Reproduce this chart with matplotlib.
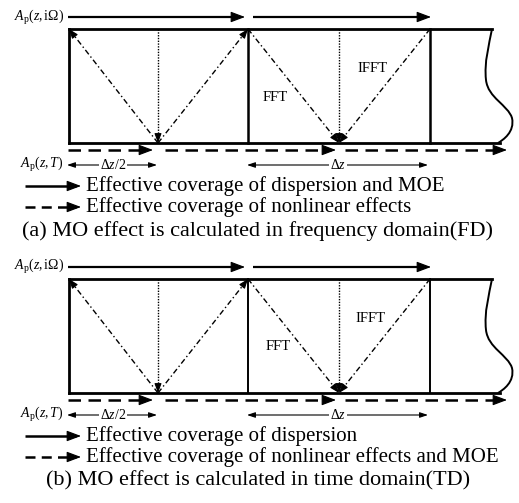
import matplotlib
matplotlib.use("Agg")
import matplotlib.pyplot as plt
from matplotlib.path import Path
from matplotlib.patches import PathPatch
import numpy as np

plt.rcParams['font.family'] = ['Liberation Serif', 'DejaVu Serif']
plt.rcParams['mathtext.fontset'] = 'custom'
plt.rcParams['mathtext.rm'] = 'Liberation Serif'
plt.rcParams['mathtext.it'] = 'Liberation Serif:italic'
plt.rcParams['mathtext.bf'] = 'Liberation Serif:bold'

# ---- diagram geometry (pixel units, panel (a); panel (b) is shifted down) ----
panel_offsets = [0, 250]
box_left, box_top, box_bottom = 69, 29, 143
top_edge_end, bottom_edge_end = 492, 500
solid_verticals = [248, 430]
dotted_verticals = [158, 339]
# diagonals: (x_start, y_start, x_end, y_end), arrow head at end
diagonals = [(158, 143, 69, 29), (158, 143, 248, 29), (248, 29, 339, 143), (430, 29, 339, 143)]
# wavy right edge as cubic Bezier segments (start, ctrl1, ctrl2, end)
wave_ctrl = [(492, 29), (489, 45), (484, 62), (486, 80),
             (488, 98), (508, 105), (512, 118),
             (515, 132), (503, 140), (498, 143)]
top_arrows = [(68, 245), (253, 431)]
top_arrow_y = 17
bottom_arrows = [(68, 153), (165, 336), (345, 507)]
bottom_arrow_y = 150
span_y = 165
spans = [(67, 157, r'$\Delta z/2$', 113), (247, 428, r'$\Delta z$', 338)]

legend_lines = [
    ["Effective coverage of dispersion and MOE", "Effective coverage of nonlinear effects"],
    ["Effective coverage of dispersion", "Effective coverage of nonlinear effects and MOE"],
]
captions = ["(a) MO effect is calculated in frequency domain(FD)",
            "(b) MO effect is calculated in time domain(TD)"]
fft_pos = [(275, 97), (278, 97)]
ifft_pos = [(372, 68), (370, 68)]

W, H = 519, 503
fig = plt.figure(figsize=(W / 100, H / 100), dpi=100)
ax = fig.add_axes([0, 0, 1, 1])
ax.set_xlim(0, W)
ax.set_ylim(H, 0)
ax.axis('off')


def head(x1, y1, dx, dy, ms=10):
    L = np.hypot(dx, dy)
    ux, uy = dx / L, dy / L
    ax.annotate('', xy=(x1, y1), xytext=(x1 - ux * 6, y1 - uy * 6),
                arrowprops=dict(arrowstyle='-|>,head_length=0.8,head_width=0.3',
                                color='black', lw=0.8, shrinkA=0, shrinkB=0,
                                mutation_scale=ms))


def arrow(x0, y0, x1, y1, lw=1.5, dashes=None, ms=10):
    dx, dy = x1 - x0, y1 - y0
    L = np.hypot(dx, dy)
    ux, uy = dx / L, dy / L
    xe, ye = x1 - ux * 5, y1 - uy * 5
    if dashes is None:
        ax.plot([x0, xe], [y0, ye], color='black', lw=lw, solid_capstyle='butt')
    else:
        ax.plot([x0, xe], [y0, ye], color='black', lw=lw, dashes=dashes, dash_capstyle='butt')
    head(x1, y1, dx, dy, ms)


for p, off in enumerate(panel_offsets):
    # box
    ax.plot([box_left, box_left], [box_top + off, box_bottom + off], color='black', lw=2)
    ax.plot([box_left, top_edge_end], [box_top + off, box_top + off], color='black', lw=2)
    ax.plot([box_left, bottom_edge_end], [box_bottom + off, box_bottom + off], color='black', lw=2)
    for xv in solid_verticals:
        ax.plot([xv, xv], [box_top + off, box_bottom + off], color='black', lw=1.8 if p == 0 else 1.4)
    verts = [(x, y + off) for (x, y) in wave_ctrl]
    codes = [Path.MOVETO] + [Path.CURVE4] * (len(verts) - 1)
    ax.add_patch(PathPatch(Path(verts, codes), facecolor='none', edgecolor='black', lw=1.4))
    # dotted verticals with heads
    for xv in dotted_verticals:
        ax.plot([xv, xv], [box_top + off, box_bottom + off - 5], color='black', lw=1.0, dashes=(1, 1))
        head(xv, box_bottom + off, 0, 1, ms=7)
    # dash-dot diagonals
    for (xa, ya, xb, yb) in diagonals:
        dx, dy = xb - xa, yb - ya
        L = np.hypot(dx, dy)
        ax.plot([xa, xb - dx / L * 5], [ya + off, yb + off - dy / L * 5], color='black', lw=1.0,
                dashes=(4, 2, 1, 2))
        head(xb, yb + off, dx, dy, ms=7)
    # top solid arrows
    for (xa, xb) in top_arrows:
        arrow(xa, top_arrow_y + off, xb, top_arrow_y + off, lw=1.6, ms=11)
    # bottom dashed arrows
    for (xa, xb) in bottom_arrows:
        arrow(xa, bottom_arrow_y + off, xb, bottom_arrow_y + off, lw=1.8, dashes=(5, 3), ms=11)
    # spans
    for (xa, xb, lab, xt) in spans:
        ax.annotate('', xy=(xa, span_y + off), xytext=(xb, span_y + off),
                    arrowprops=dict(arrowstyle='<|-|>,head_length=0.6,head_width=0.2',
                                    color='black', lw=0.8, shrinkA=0, shrinkB=0,
                                    mutation_scale=8))
        ax.text(xt, span_y + off, lab, fontsize=10, ha='center', va='center',
                bbox=dict(facecolor='white', edgecolor='none', pad=0.5))
    # labels
    ax.text(64, top_arrow_y + off, r'$A_{\mathrm{p}}(z,\mathrm{i}Ω)$', fontsize=10,
            ha='right', va='center')
    ax.text(64, span_y + off, r'$A_{\mathrm{p}}(z,T)$', fontsize=10, ha='right', va='center')
    ax.text(fft_pos[p][0], fft_pos[p][1] + off, 'FFT', fontsize=10.5, ha='center', va='center')
    ax.text(ifft_pos[p][0], ifft_pos[p][1] + off, 'IFFT', fontsize=10.5, ha='center', va='center')
    # legend
    arrow(25, 186 + off, 81, 186 + off, lw=1.8, ms=11)
    arrow(25, 207 + off, 81, 207 + off, lw=1.8, dashes=(4, 2.5), ms=11)
    ax.text(86, 186 + off, legend_lines[p][0], fontsize=15, ha='left', va='center')
    ax.text(86, 207 + off, legend_lines[p][1], fontsize=15, ha='left', va='center')
    ax.text(258, 231 + off, captions[p], fontsize=16, ha='center', va='center')

fig.savefig('out.png', dpi=100)
